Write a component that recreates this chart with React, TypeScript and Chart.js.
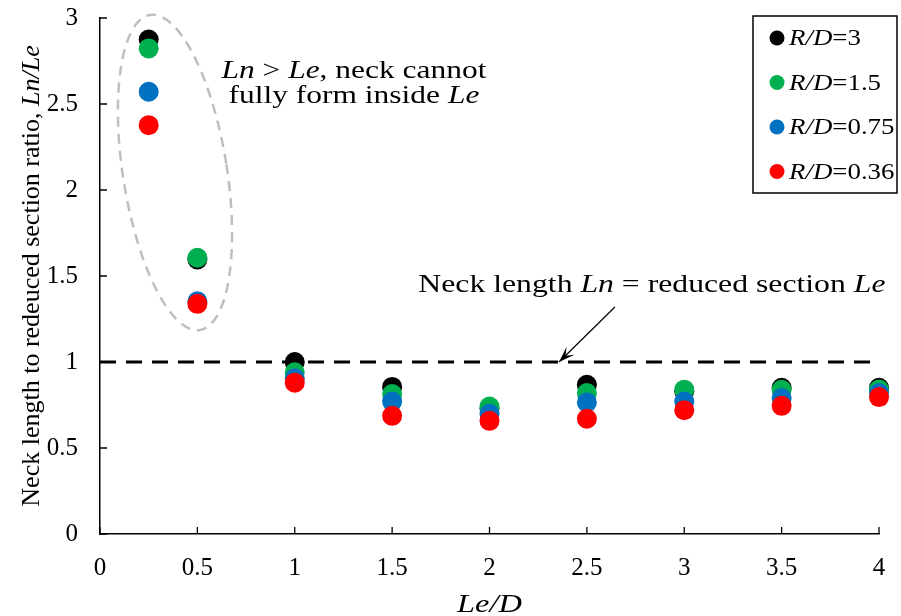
import React, { useEffect, useRef } from "react";
import { Chart, registerables } from "chart.js";

Chart.register(...registerables);

// Reduced-section length over diameter
const leOverD = [0.25, 0.5, 1, 1.5, 2, 2.5, 3, 3.5, 4];

// Neck length to reduced section ratio, Ln/Le, for each fillet ratio R/D
const ratioRD3 = [2.875, 1.596, 1.0, 0.855, 0.73, 0.868, 0.83, 0.85, 0.85];
const ratioRD15 = [2.823, 1.606, 0.94, 0.814, 0.741, 0.82, 0.839, 0.838, 0.84];
const ratioRD075 = [2.571, 1.353, 0.905, 0.77, 0.699, 0.765, 0.77, 0.79, 0.82];
const ratioRD036 = [2.377, 1.338, 0.88, 0.687, 0.658, 0.67, 0.72, 0.745, 0.796];

const seriesValues = [ratioRD3, ratioRD15, ratioRD075, ratioRD036];
const seriesRD = ["3", "1.5", "0.75", "0.36"];
const seriesColors = ["#000000", "#00B050", "#0070C0", "#FF0000"];

const xTickValues = [0, 0.5, 1, 1.5, 2, 2.5, 3, 3.5, 4];
const yTickValues = [0, 0.5, 1, 1.5, 2, 2.5, 3];

// Reference line Ln = Le
const equalLineX = [0, 4];
const equalLineY = [1, 1];

const SERIF = "'Times New Roman', 'Liberation Serif', serif";

type Run = { text: string; italic?: boolean };

function fontFor(size: number, italic?: boolean) {
  return `${italic ? "italic " : ""}${size}px ${SERIF}`;
}

function runsWidth(ctx: CanvasRenderingContext2D, runs: Run[], size: number) {
  let w = 0;
  for (const r of runs) {
    ctx.font = fontFor(size, r.italic);
    w += ctx.measureText(r.text).width;
  }
  return w;
}

// Draws a line of mixed upright/italic text, optionally widened horizontally.
function drawRuns(
  ctx: CanvasRenderingContext2D,
  runs: Run[],
  x: number,
  y: number,
  size: number,
  align: "left" | "center",
  stretch = 1
) {
  ctx.save();
  ctx.translate(x, y);
  ctx.scale(stretch, 1);
  let cx = align === "center" ? -runsWidth(ctx, runs, size) / 2 : 0;
  ctx.textAlign = "left";
  for (const r of runs) {
    ctx.font = fontFor(size, r.italic);
    ctx.fillText(r.text, cx, 0);
    cx += ctx.measureText(r.text).width;
  }
  ctx.restore();
}

const decorations = {
  id: "decorations",
  afterDatasetsDraw(chart: any) {
    const { ctx, chartArea, scales } = chart;
    const xs = scales.x;
    const ys = scales.y;
    ctx.save();

    // inward tick marks
    ctx.strokeStyle = "#000";
    ctx.lineWidth = 1.3;
    ctx.beginPath();
    for (const v of xTickValues) {
      const px = xs.getPixelForValue(v);
      ctx.moveTo(px, chartArea.bottom);
      ctx.lineTo(px, chartArea.bottom - 7);
    }
    for (const v of yTickValues) {
      const py = ys.getPixelForValue(v);
      ctx.moveTo(chartArea.left, py);
      ctx.lineTo(chartArea.left + 7, py);
    }
    ctx.stroke();

    // dashed ellipse around the short reduced sections
    ctx.strokeStyle = "#BFBFBF";
    ctx.lineWidth = 2.5;
    ctx.setLineDash([10, 7]);
    ctx.beginPath();
    ctx.ellipse(
      xs.getPixelForValue(0.385),
      ys.getPixelForValue(2.102),
      52,
      159.5,
      -0.157,
      0,
      Math.PI * 2
    );
    ctx.stroke();
    ctx.setLineDash([]);

    ctx.fillStyle = "#000";
    ctx.textBaseline = "alphabetic";

    // note inside the ellipse region
    drawRuns(
      ctx,
      [{ text: "Ln", italic: true }, { text: " > " }, { text: "Le", italic: true }, { text: ", neck cannot" }],
      xs.getPixelForValue(1.304),
      ys.getPixelForValue(2.651),
      26,
      "center",
      1.21
    );
    drawRuns(
      ctx,
      [{ text: "fully form inside " }, { text: "Le", italic: true }],
      xs.getPixelForValue(1.304),
      ys.getPixelForValue(2.503),
      26,
      "center",
      1.21
    );

    // label for the reference line
    drawRuns(
      ctx,
      [
        { text: "Neck length " },
        { text: "Ln", italic: true },
        { text: " = reduced section " },
        { text: "Le", italic: true },
      ],
      xs.getPixelForValue(2.834),
      ys.getPixelForValue(1.407),
      26,
      "center",
      1.22
    );

    // arrow pointing to the reference line
    const tx = xs.getPixelForValue(2.357);
    const ty = ys.getPixelForValue(1);
    const fx = xs.getPixelForValue(2.644);
    const fy = ys.getPixelForValue(1.32);
    const ang = Math.atan2(ty - fy, tx - fx);
    ctx.strokeStyle = "#000";
    ctx.lineWidth = 1.2;
    ctx.beginPath();
    ctx.moveTo(fx, fy);
    ctx.lineTo(tx, ty);
    ctx.stroke();
    const headLen = 17;
    const spread = 0.33;
    ctx.beginPath();
    ctx.moveTo(tx - headLen * Math.cos(ang - spread), ty - headLen * Math.sin(ang - spread));
    ctx.lineTo(tx, ty);
    ctx.lineTo(tx - headLen * Math.cos(ang + spread), ty - headLen * Math.sin(ang + spread));
    ctx.lineTo(tx - 9 * Math.cos(ang), ty - 9 * Math.sin(ang));
    ctx.closePath();
    ctx.fill();

    // axis titles
    drawRuns(
      ctx,
      [{ text: "Le/D", italic: true }],
      (chartArea.left + chartArea.right) / 2,
      612,
      25,
      "center",
      1.3
    );
    ctx.save();
    ctx.translate(39, (chartArea.top + chartArea.bottom) / 2);
    ctx.rotate(-Math.PI / 2);
    drawRuns(
      ctx,
      [{ text: "Neck length to redeuced section ratio, " }, { text: "Ln/Le", italic: true }],
      0,
      0,
      26,
      "center"
    );
    ctx.restore();

    // legend
    const lx = 753;
    const ly = 16;
    const lw = 144;
    const lh = 177;
    ctx.fillStyle = "#fff";
    ctx.fillRect(lx, ly, lw, lh);
    ctx.strokeStyle = "#000";
    ctx.lineWidth = 1.5;
    ctx.strokeRect(lx, ly, lw, lh);
    seriesRD.forEach((rd, i) => {
      const cy = ly + 22 + i * 44.5;
      ctx.fillStyle = seriesColors[i];
      ctx.beginPath();
      ctx.arc(lx + 24, cy, 7.5, 0, Math.PI * 2);
      ctx.fill();
      ctx.fillStyle = "#000";
      ctx.textBaseline = "middle";
      drawRuns(ctx, [{ text: "R/D", italic: true }, { text: "=" + rd }], lx + 36, cy + 1, 24, "left", 1.12);
    });

    ctx.restore();
  },
};

export default function App() {
  const canvasRef = useRef<HTMLCanvasElement | null>(null);

  useEffect(() => {
    const canvas = canvasRef.current;
    if (!canvas) return;

    const scatterSets = seriesValues.map((vals, i) => ({
      type: "scatter" as const,
      label: "R/D=" + seriesRD[i],
      data: leOverD.map((x, j) => ({ x, y: vals[j] })),
      backgroundColor: seriesColors[i],
      borderColor: seriesColors[i],
      borderWidth: 0,
      pointRadius: 10,
      pointHoverRadius: 10,
      clip: false,
      order: seriesValues.length - i,
    }));

    const chart = new Chart(canvas, {
      type: "scatter",
      data: {
        datasets: [
          {
            type: "line" as const,
            label: "Ln = Le",
            data: equalLineX.map((x, j) => ({ x, y: equalLineY[j] })),
            borderColor: "#000",
            borderWidth: 3,
            borderDash: [16, 10],
            pointRadius: 0,
            fill: false,
            order: 10,
          },
          ...scatterSets,
        ] as any,
      },
      options: {
        animation: false,
        responsive: false,
        devicePixelRatio: 1,
        layout: { padding: { top: 18, right: 22, left: 0, bottom: 0 } },
        plugins: {
          legend: { display: false },
          tooltip: { enabled: false },
        },
        scales: {
          x: {
            type: "linear",
            min: 0,
            max: 4,
            afterBuildTicks: (s: any) => {
              s.ticks = xTickValues.map((value) => ({ value }));
            },
            afterFit: (s: any) => {
              s.height = 82;
              s.paddingLeft = 0;
              s.paddingRight = 0;
            },
            grid: { display: false, drawTicks: false },
            border: { display: true, color: "#000", width: 1.5 },
            ticks: {
              color: "#000",
              padding: 19,
              font: { family: SERIF, size: 25 },
              maxRotation: 0,
              callback: (v: any) => String(v),
            },
          },
          y: {
            type: "linear",
            min: 0,
            max: 3,
            afterBuildTicks: (s: any) => {
              s.ticks = yTickValues.map((value) => ({ value }));
            },
            afterFit: (s: any) => {
              s.width = 100;
              s.paddingTop = 0;
              s.paddingBottom = 0;
            },
            grid: { display: false, drawTicks: false },
            border: { display: true, color: "#000", width: 1.5 },
            ticks: {
              color: "#000",
              padding: 22,
              font: { family: SERIF, size: 25 },
              callback: (v: any) => String(v),
            },
          },
        },
      },
      plugins: [decorations],
    });

    return () => chart.destroy();
  }, []);

  return (
    <div style={{ position: "fixed", left: 0, top: 0, width: 901, height: 616, background: "#fff" }}>
      <canvas ref={canvasRef} width={901} height={616} />
    </div>
  );
}
